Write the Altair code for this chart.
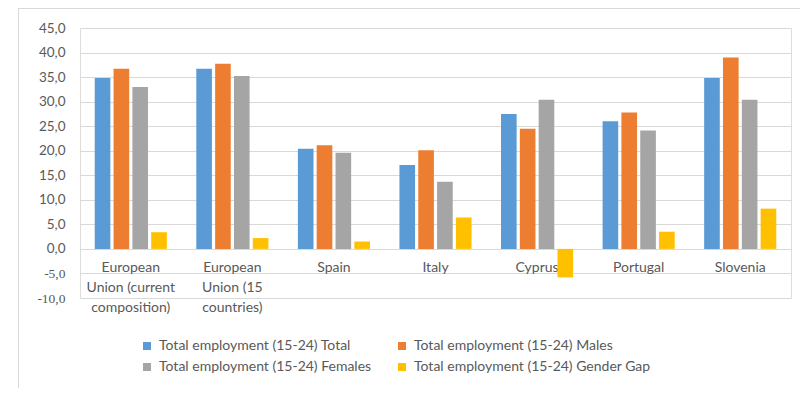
import altair as alt
import pandas as pd

categories = [
    "European Union (current composition)",
    "European Union (15 countries)",
    "Spain",
    "Italy",
    "Cyprus",
    "Portugal",
    "Slovenia",
]
category_labels = [
    "European\nUnion (current\ncomposition)",
    "European\nUnion (15\ncountries)",
    "Spain",
    "Italy",
    "Cyprus",
    "Portugal",
    "Slovenia",
]
series = [
    "Total employment (15-24) Total",
    "Total employment (15-24) Males",
    "Total employment (15-24) Females",
    "Total employment (15-24) Gender Gap",
]
total = [34.8, 36.7, 20.4, 17.1, 27.5, 26.0, 34.8]
males = [36.7, 37.7, 21.1, 20.1, 24.5, 27.8, 39.0]
females = [33.0, 35.2, 19.6, 13.7, 30.4, 24.1, 30.4]
gender_gap = [3.4, 2.2, 1.5, 6.4, -5.8, 3.5, 8.2]
colors = ["#5B9BD5", "#ED7D31", "#A5A5A5", "#FFC000"]
y_ticks = [-10, -5, 0, 5, 10, 15, 20, 25, 30, 35, 40, 45]

rows = []
for s, vals in zip(series, [total, males, females, gender_gap]):
    for c, v in zip(categories, vals):
        rows.append({"category": c, "series": s, "value": v})
df = pd.DataFrame(rows)
labels_df = pd.DataFrame({"category": categories, "label": category_labels})

TEXT = "#595959"
FONT = "Lato"

x_enc = alt.X(
    "category:N",
    sort=categories,
    axis=None,
    scale=alt.Scale(paddingInner=0.29, paddingOuter=0.145),
)

y_scale = alt.Scale(domain=[-10, 45], nice=False, zero=False)
y_axis = alt.Axis(
    values=y_ticks,
    title=None,
    domain=False,
    ticks=False,
    labelPadding=15,
    labelOverlap=False,
    grid=True,
    gridColor="#d9d9d9",
    gridWidth=1,
    labelFontSize=13.5,
    labelColor=TEXT,
    labelFont={"condition": {"test": "datum.value < 0", "value": "Liberation Serif"}, "value": FONT},
    labelExpr="replace(replace(format(datum.value, '.1f'), '.', ','), '\u2212', '-')",
)

bars = alt.Chart(df).mark_bar().encode(
    x=x_enc,
    xOffset=alt.XOffset("series:N", sort=series, scale=alt.Scale(paddingInner=0.17)),
    y=alt.Y("value:Q", scale=y_scale, axis=y_axis),
    color=alt.Color(
        "series:N",
        sort=series,
        scale=alt.Scale(domain=series, range=colors),
        legend=alt.Legend(
            orient="none",
            direction="horizontal",
            legendX=60,
            legendY=311,
            columns=2,
            title=None,
            symbolType="square",
            symbolSize=64,
            symbolStrokeWidth=0,
            labelFontSize=14,
            labelFont=FONT,
            labelColor=TEXT,
            labelOffset=5,
            labelLimit=400,
            columnPadding=23,
            rowPadding=7,
        ),
    ),
)

cat_text = alt.Chart(labels_df).mark_text(
    baseline="top",
    align="center",
    dy=12,
    lineBreak="\n",
    lineHeight=20,
    fontSize=14,
    font=FONT,
    color=TEXT,
).encode(
    x=x_enc,
    y=alt.YDatum(0, type="quantitative", scale=y_scale, axis=y_axis),
    text="label:N",
)

one = pd.DataFrame({"a": [0]})
border_top = alt.Chart(one).mark_rule(color="#d9d9d9", strokeWidth=1).encode(
    x=alt.value(-62), x2=alt.value(728), y=alt.value(-19.5)
)
border_left = alt.Chart(one).mark_rule(color="#d9d9d9", strokeWidth=1).encode(
    x=alt.value(-61.5), y=alt.value(-20), y2=alt.value(360)
)

chart = (
    alt.layer(border_top, border_left, cat_text, bars)
    .properties(
        width=711,
        height=270,
        autosize=alt.AutoSizeParams(type="none"),
        padding={"left": 72, "top": 20, "right": 9, "bottom": 90},
    )
    .configure_view(stroke=None)
    .configure(background="white")
)

chart.save("out.html", embed_options={"renderer": "svg", "actions": False})
